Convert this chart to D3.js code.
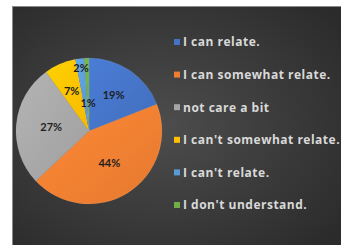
<!DOCTYPE html>
<html>
<head>
<meta charset="utf-8">
<script src="https://cdn.jsdelivr.net/npm/d3@7"></script>
<style>
  html, body { margin: 0; padding: 0; background: #fff; }
  svg { display: block; }
</style>
</head>
<body>
<div id="chart"></div>
<script>
// chart data
const categories = ['I can relate.', 'I can somewhat relate.', 'not care a bit',
  "I can't somewhat relate.", "I can't relate.", "I don't understand."];
const values = [19, 44, 27, 7, 2, 1];
const valueLabels = ['19%', '44%', '27%', '7%', '2%', '1%'];
const colors = ['#4472C4', '#ED7D31', '#A5A5A5', '#FFC000', '#5B9BD5', '#70AD47'];

const width = 341, height = 245;

const svg = d3.select('#chart')
  .append('svg')
  .attr('width', width)
  .attr('height', height);

const defs = svg.append('defs');
const bg = defs.append('radialGradient')
  .attr('id', 'bg')
  .attr('cx', '45%').attr('cy', '50%').attr('r', '70%');
bg.append('stop').attr('offset', '0%').attr('stop-color', '#4d4d4d');
bg.append('stop').attr('offset', '100%').attr('stop-color', '#2b2b2b');

// slice shading, lighter top-left like the excel style
colors.forEach((c, i) => {
  const g = defs.append('linearGradient')
    .attr('id', 'sl' + i)
    .attr('x1', '0%').attr('y1', '0%').attr('x2', '100%').attr('y2', '100%');
  g.append('stop').attr('offset', '0%').attr('stop-color', d3.color(c).brighter(0.25));
  g.append('stop').attr('offset', '100%').attr('stop-color', d3.color(c).darker(0.1));
});

// chart area
svg.append('rect')
  .attr('x', 12.5).attr('y', 6.5)
  .attr('width', width - 12).attr('height', height - 6)
  .attr('fill', 'url(#bg)')
  .attr('stroke', '#8a8a8a')
  .attr('stroke-width', 1);

const cx = 89, cy = 131, radius = 73;

const pie = d3.pie().sort(null).value(d => d);
const arcs = pie(values);
const arc = d3.arc().innerRadius(0).outerRadius(radius);

const g = svg.append('g').attr('transform', `translate(${cx},${cy})`);

g.selectAll('path')
  .data(arcs)
  .enter()
  .append('path')
  .attr('d', arc)
  .attr('fill', (d, i) => `url(#sl${i})`)
  .attr('stroke', 'rgba(255,255,255,0.15)')
  .attr('stroke-width', 0.5);

// label radius as fraction of pie radius (small slices pushed out / in)
const labelRadius = [0.6, 0.52, 0.52, 0.6, 0.87, 0.38];

g.selectAll('text')
  .data(arcs)
  .enter()
  .append('text')
  .attr('transform', (d, i) => {
    const r = radius * labelRadius[i];
    const a = (d.startAngle + d.endAngle) / 2;
    return `translate(${Math.sin(a) * r},${-Math.cos(a) * r})`;
  })
  .attr('text-anchor', 'middle')
  .attr('dy', '0.35em')
  .style('font-family', 'Lato, "Open Sans", sans-serif')
  .style('font-weight', 'bold')
  .style('font-size', '11px')
  .style('fill', '#1e1e1e')
  .text((d, i) => valueLabels[i]);

// legend
const legendY = d3.scalePoint()
  .domain(categories)
  .range([42, 205]);

const legend = svg.append('g')
  .selectAll('g')
  .data(categories)
  .enter()
  .append('g')
  .attr('transform', d => `translate(174,${legendY(d)})`);

legend.append('rect')
  .attr('x', 0).attr('y', -3)
  .attr('width', 6).attr('height', 6)
  .attr('fill', (d, i) => colors[i]);

legend.append('text')
  .attr('x', 9)
  .attr('dy', '0.36em')
  .style('font-family', '"Open Sans", sans-serif')
  .style('font-weight', 'bold')
  .style('font-size', '12px')
  .style('letter-spacing', '0.5px')
  .style('fill', '#d9d9d9')
  .text(d => d);
</script>
</body>
</html>
